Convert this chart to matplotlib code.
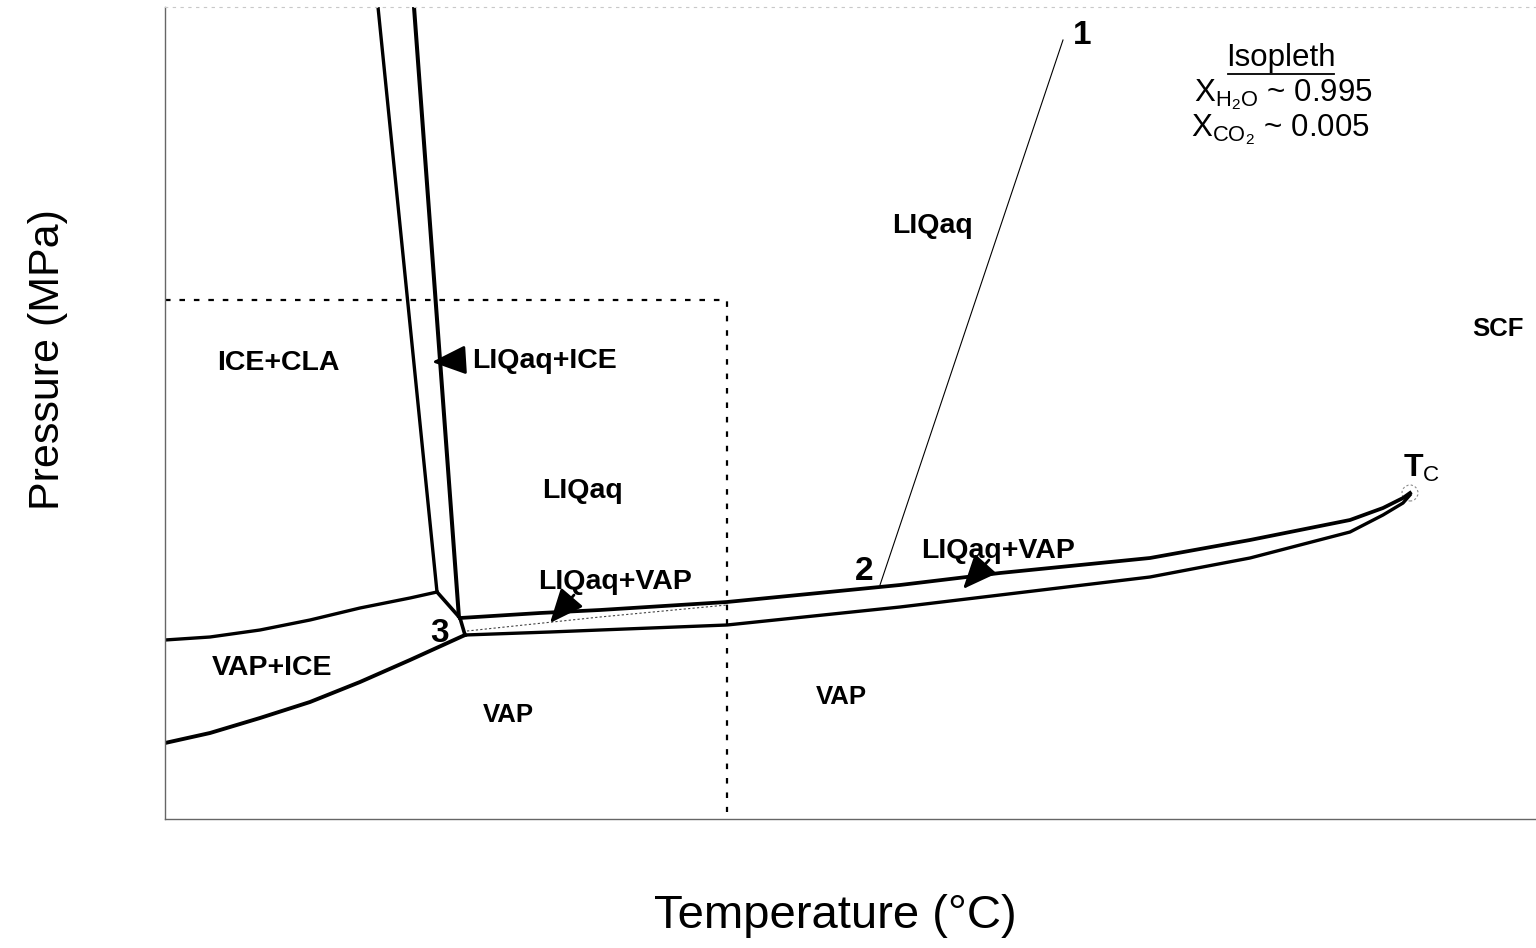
import matplotlib
matplotlib.use('Agg')
import matplotlib.pyplot as plt
from matplotlib.patches import Circle
from matplotlib.lines import Line2D

plt.rcParams['font.family'] = ['Liberation Sans', 'DejaVu Sans']
plt.rcParams['mathtext.fontset'] = 'custom'
plt.rcParams['mathtext.rm'] = 'Liberation Sans'
plt.rcParams['mathtext.bf'] = 'Liberation Sans:bold'

# ---- schematic phase-boundary curves (arbitrary T, P units) ----
melt_left_T = [213, 272]
melt_left_P = [812, 227]
melt_right_T = [249, 294]
melt_right_P = [812, 201]
triple_T = [272, 295, 300]
triple_P = [227, 201, 184]

lv_upper_T = [295, 375, 435, 562, 735, 835, 935, 985, 1085, 1185, 1218, 1238, 1245]
lv_upper_P = [201, 206, 209, 217, 234, 246, 256, 261, 279, 299, 311, 321, 326]
lv_lower_T = [300, 385, 435, 562, 735, 835, 935, 985, 1085, 1185, 1218, 1238, 1245]
lv_lower_P = [184, 187, 189, 194, 212, 224, 236, 242, 261, 287, 304, 316, 324]
lv_dotted_T = [302, 435, 562]
lv_dotted_P = [188, 202, 214]

vi_upper_T = [0, 45, 95, 145, 195, 245, 272]
vi_upper_P = [179, 182, 189, 199, 211, 221, 227]
vi_lower_T = [0, 45, 95, 145, 195, 245, 278, 300]
vi_lower_P = [76, 86, 101, 117, 137, 159, 174, 184]

isopleth_T = [715, 898]
isopleth_P = [234, 779]

box_T = [0, 562, 562]
box_P = [519, 519, 7]

tc_T, tc_P = 1245, 326

fig = plt.figure(figsize=(15.36, 9.48), dpi=100)
ax = fig.add_axes([165/1536, (948-819)/948, (1536-165)/1536, (819-7)/948])
ax.set_xlim(0, 1371)
ax.set_ylim(0, 812)
ax.set_xticks([])
ax.set_yticks([])
for s in ['left', 'bottom']:
    ax.spines[s].set_color('#666666')
    ax.spines[s].set_linewidth(1.0)
ax.spines['right'].set_visible(False)
ax.spines['top'].set_color('#c8c8c8')
ax.spines['top'].set_linestyle((0, (2, 5)))
ax.spines['top'].set_linewidth(0.8)

k = 'black'
ax.plot(melt_left_T, melt_left_P, color=k, lw=2.4, solid_capstyle='butt')
ax.plot(melt_right_T, melt_right_P, color=k, lw=2.9, solid_capstyle='butt')
ax.plot(triple_T, triple_P, color=k, lw=2.6, solid_joinstyle='round')
ax.plot(lv_upper_T, lv_upper_P, color=k, lw=2.7, solid_joinstyle='round')
ax.plot(lv_lower_T, lv_lower_P, color=k, lw=2.4, solid_joinstyle='round')
ax.plot(lv_dotted_T, lv_dotted_P, color='#444444', lw=0.8, ls=(0, (2, 2)))
ax.plot(vi_upper_T, vi_upper_P, color=k, lw=2.4, solid_joinstyle='round')
ax.plot(vi_lower_T, vi_lower_P, color=k, lw=2.8, solid_joinstyle='round')
ax.plot(isopleth_T, isopleth_P, color=k, lw=0.8)
ax.plot(box_T, box_P, color=k, lw=1.6, ls=(0, (2.5, 4)))

ax.add_patch(Circle((tc_T, tc_P), 8, fill=False, ls=(0, (2, 2)), color='#888888', lw=0.8))

arrow_kw = dict(arrowstyle='-|>,head_length=0.7,head_width=0.3', mutation_scale=30,
                color='black', lw=2, shrinkA=0, shrinkB=0)
ax.annotate('', xy=(267, 457), xytext=(299, 459), arrowprops=arrow_kw)
ax.annotate('', xy=(385, 196), xytext=(409, 224), arrowprops=arrow_kw)
ax.annotate('', xy=(798, 230), xytext=(824, 259), arrowprops=arrow_kw)

lab = dict(fontsize=20.5, fontweight='bold', ha='center', va='center')
ax.text(113, 456, 'ICE+CLA', **lab)
ax.text(380, 458, 'LIQaq+ICE', **lab)
ax.text(418, 328, 'LIQaq', **lab)
ax.text(450, 237, 'LIQaq+VAP', **lab)
ax.text(768, 593, 'LIQaq', **lab)
ax.text(833, 268, 'LIQaq+VAP', **lab)
ax.text(107, 151, 'VAP+ICE', **lab)
lab2 = dict(fontsize=18.5, fontweight='bold', ha='center', va='center')
ax.text(343, 104, 'VAP', **lab2)
ax.text(676, 122, 'VAP', **lab2)
ax.text(1333, 490, 'SCF', **lab2)
num = dict(fontsize=24, fontweight='bold', ha='center', va='center')
ax.text(275, 185, '3', **num)
ax.text(699, 247, '2', **num)
ax.text(917, 784, '1', **num)
ax.text(1257, 351, r'$\mathbf{T}_{\mathrm{C}}$', fontsize=23, ha='center', va='center')

t_iso = ax.text(1116, 761, 'Isopleth', fontsize=22.5, ha='center', va='center')
ax.text(1118, 724, r'X$_{\mathregular{H_2O}}$ ~ 0.995', fontsize=22.5, ha='center', va='center')
ax.text(1115, 689, r'X$_{\mathregular{CO_2}}$ ~ 0.005', fontsize=22.5, ha='center', va='center')

ax.set_xlabel('Temperature (°C)', fontsize=34, va='center')
ax.xaxis.set_label_coords((835-165)/1371, (819-916)/812)
ax.set_ylabel('Pressure (MPa)', fontsize=31, va='center')
ax.yaxis.set_label_coords((48-165)/1371, (819-360)/812)

fig.canvas.draw()
bb = t_iso.get_window_extent()
inv = fig.transFigure.inverted()
(x0, y0) = inv.transform((bb.x0 + 2, bb.y0 - 1))
(x1, _) = inv.transform((bb.x1 - 2, bb.y0 - 1))
fig.add_artist(Line2D([x0, x1], [y0, y0], color='black', lw=1.3, transform=fig.transFigure))

fig.savefig('out.png', dpi=100)
